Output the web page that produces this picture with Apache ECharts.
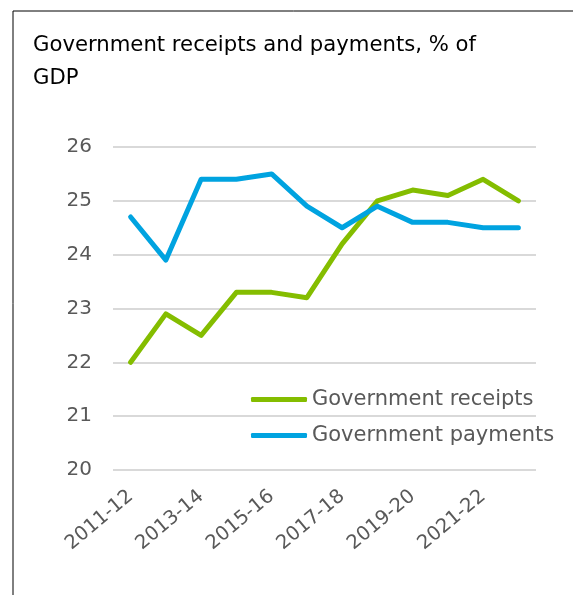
<!DOCTYPE html>
<html><head><meta charset="utf-8">
<script src="https://cdn.jsdelivr.net/npm/echarts@6/dist/echarts.min.js"></script>
<style>html,body{margin:0;padding:0;background:#fff}#c{width:573px;height:595px}</style>
</head><body><div id="c"></div>
<script>
const categories = ['2011-12','2012-13','2013-14','2014-15','2015-16','2016-17','2017-18','2018-19','2019-20','2020-21','2021-22','2022-23'];
const receipts = [22.0, 22.9, 22.5, 23.3, 23.3, 23.2, 24.2, 25.0, 25.2, 25.1, 25.4, 25.0];
const payments = [24.7, 23.9, 25.4, 25.4, 25.5, 24.9, 24.5, 24.9, 24.6, 24.6, 24.5, 24.5];
const yTicks = [20, 21, 22, 23, 24, 25, 26];
const FONT = 'DejaVu Sans';
const chart = echarts.init(document.getElementById('c'), null, {renderer:'canvas'});
chart.setOption({
  animation: false,
  graphic: [{type:'rect', shape:{x:13, y:11, width:700, height:700}, style:{fill:'none', stroke:'#000', lineWidth:1}, silent:true}],
  title: {text:'Government receipts and payments, % of\nGDP', left:28, top:24,
    textStyle:{fontFamily:FONT, fontSize:21.2, fontWeight:'normal', color:'#000', lineHeight:33}},
  legend: {orient:'vertical', left:246, top:384, itemWidth:56, itemHeight:5, itemGap:15,
    icon:'roundRect',
    textStyle:{fontFamily:FONT, fontSize:21, color:'#595959'},
    data:['Government receipts','Government payments']},
  grid: {left:113, right:37, top:147, bottom:125},
  xAxis: {type:'category', data:categories, boundaryGap:true,
    axisLine:{show:false}, axisTick:{show:false},
    axisLabel:{interval:1, rotate:40, margin:24, fontFamily:FONT, fontSize:19.5, color:'#595959'}},
  yAxis: {type:'value', min:yTicks[0], max:yTicks[yTicks.length-1], interval:1,
    axisLine:{show:false}, axisTick:{show:false},
    splitLine:{lineStyle:{color:'#d9d9d9', width:2}},
    axisLabel:{margin:21, fontFamily:FONT, fontSize:20, color:'#595959'}},
  series: [
    {name:'Government receipts', type:'line', data:receipts, showSymbol:false, symbol:'none',
      lineStyle:{color:'#84BD00', width:5, cap:'round', join:'round'}, itemStyle:{color:'#84BD00'}},
    {name:'Government payments', type:'line', data:payments, showSymbol:false, symbol:'none',
      lineStyle:{color:'#00A3E0', width:5, cap:'round', join:'round'}, itemStyle:{color:'#00A3E0'}}
  ]
});
</script></body></html>
